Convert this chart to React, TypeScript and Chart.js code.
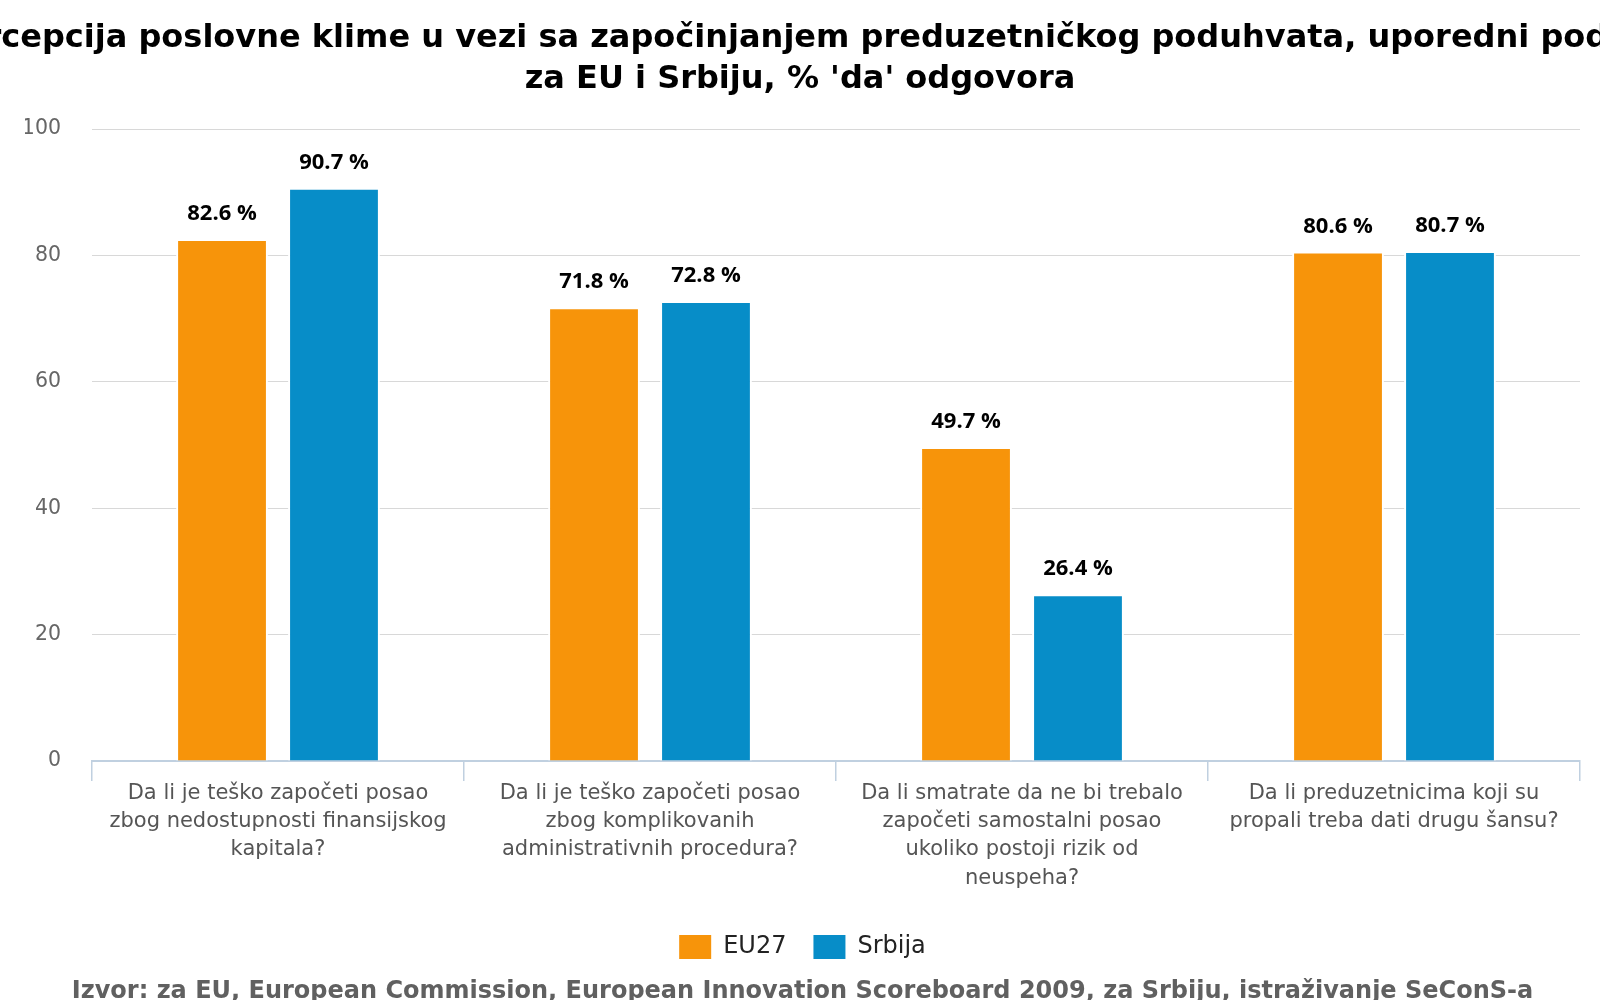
import React, { useEffect, useRef } from 'react'
import { Chart, registerables } from 'chart.js'

Chart.register(...registerables)

// chart data
const categories = [
  ['Da li je teško započeti posao', 'zbog nedostupnosti finansijskog', 'kapitala?'],
  ['Da li je teško započeti posao', 'zbog komplikovanih', 'administrativnih procedura?'],
  ['Da li smatrate da ne bi trebalo', 'započeti samostalni posao', 'ukoliko postoji rizik od', 'neuspeha?'],
  ['Da li preduzetnicima koji su', 'propali treba dati drugu šansu?']
]
const seriesNames = ['EU27', 'Srbija']
const eu27Values = [82.6, 71.8, 49.7, 80.6]
const srbijaValues = [90.7, 72.8, 26.4, 80.7]
const yTicks = [0, 20, 40, 60, 80, 100]
const titleLines = [
  'Percepcija poslovne klime u vezi sa započinjanjem preduzetničkog poduhvata, uporedni podaci',
  "za EU i Srbiju, % 'da' odgovora"
]
const sourceText = 'Izvor: za EU, European Commission, European Innovation Scoreboard 2009, za Srbiju, istraživanje SeConS-a'

const FONT = "'DejaVu Sans', Verdana, sans-serif"

// draws "82.6 %" above each bar
const valueLabels = {
  id: 'valueLabels',
  afterDatasetsDraw(chart: any) {
    const ctx = chart.ctx
    ctx.save()
    ctx.font = "bold 22px 'Open Sans', sans-serif"
    ctx.fillStyle = '#000'
    ctx.textAlign = 'center'
    ctx.textBaseline = 'middle'
    chart.data.datasets.forEach((ds: any, i: number) => {
      chart.getDatasetMeta(i).data.forEach((bar: any, j: number) => {
        ctx.fillText(`${Number(ds.data[j]).toFixed(1)} %`, bar.x, bar.y - 25)
      })
    })
    ctx.restore()
  }
}

// the title is wider than the canvas, so it is drawn without Chart.js's maxWidth squeeze
const wideTitle = {
  id: 'wideTitle',
  afterDraw(chart: any) {
    const ctx = chart.ctx
    ctx.save()
    ctx.font = `bold 32px ${FONT}`
    ctx.fillStyle = '#000'
    ctx.textAlign = 'center'
    ctx.textBaseline = 'middle'
    titleLines.forEach((line, i) => {
      ctx.fillText(line, chart.width / 2, 38.5 + i * 41.5)
    })
    ctx.restore()
  }
}

const App = () => {
  const canvasRef = useRef<HTMLCanvasElement>(null)
  const chartRef = useRef<Chart | null>(null)

  useEffect(() => {
    document.body.style.margin = '0'
    const ctx = canvasRef.current!.getContext('2d')!

    chartRef.current = new Chart(ctx, {
      type: 'bar',
      data: {
        labels: categories,
        datasets: [
          {
            label: seriesNames[0],
            data: eu27Values,
            backgroundColor: '#F7940A',
            borderColor: '#ffffff',
            borderWidth: 2,
            categoryPercentage: 0.602,
            barPercentage: 0.82
          },
          {
            label: seriesNames[1],
            data: srbijaValues,
            backgroundColor: '#078DC8',
            borderColor: '#ffffff',
            borderWidth: 2,
            categoryPercentage: 0.602,
            barPercentage: 0.82
          }
        ]
      },
      options: {
        responsive: false,
        animation: false,
        devicePixelRatio: 1,
        layout: { padding: { left: 25, right: 20, top: 129, bottom: 0 } },
        plugins: {
          title: { display: false },
          subtitle: {
            display: true,
            position: 'bottom',
            text: sourceText,
            color: '#606060',
            font: { family: FONT, size: 24, weight: 'bold', lineHeight: 0.5 },
            padding: { top: 17, bottom: 2 }
          },
          legend: {
            position: 'bottom',
            labels: {
              color: '#222',
              font: { family: FONT, size: 24 },
              boxWidth: 32,
              boxHeight: 24,
              padding: 27,
              generateLabels: (chart: any) =>
                Chart.defaults.plugins.legend.labels
                  .generateLabels(chart)
                  .map((l: any) => ({ ...l, lineWidth: 0 }))
            }
          },
          tooltip: { enabled: false }
        },
        scales: {
          x: {
            grid: {
              offset: true,
              drawOnChartArea: false,
              drawTicks: true,
              tickLength: 20,
              color: '#C0D0E0',
              lineWidth: 1.5
            },
            border: { color: '#C0D0E0', width: 2 },
            ticks: {
              color: '#555',
              font: { family: FONT, size: 21, lineHeight: 1.35 },
              padding: -2,
              maxRotation: 0,
              autoSkip: false
            },
            afterFit: (scale: any) => {
              scale.height = 147
            }
          },
          y: {
            min: yTicks[0],
            max: yTicks[yTicks.length - 1],
            afterBuildTicks: (scale: any) => {
              scale.ticks = yTicks.map((v) => ({ value: v }))
            },
            grid: { color: '#D8D8D8', lineWidth: 1, drawTicks: false },
            border: { display: false },
            ticks: {
              color: '#666',
              font: { family: FONT, size: 20.5 },
              padding: 31
            },
            afterFit: (scale: any) => {
              scale.width = 67
            }
          }
        }
      },
      plugins: [valueLabels, wideTitle]
    })

    return () => {
      chartRef.current?.destroy()
    }
  }, [])

  return (
    <div style={{ width: 1600, height: 1000, background: '#fff' }}>
      <canvas ref={canvasRef} width={1600} height={1000}></canvas>
    </div>
  )
}

export default App
